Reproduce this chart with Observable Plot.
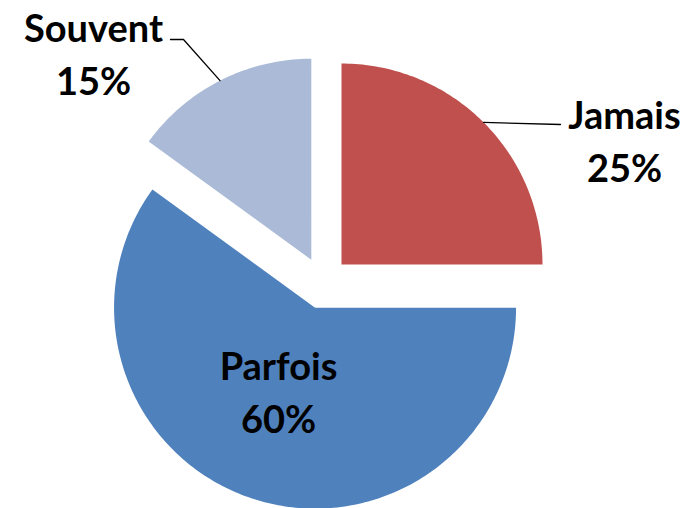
<!DOCTYPE html>
<html><head><meta charset="utf-8">
<script src="https://cdn.jsdelivr.net/npm/d3@7"></script>
<script src="https://cdn.jsdelivr.net/npm/@observablehq/plot@0.6"></script>
<style>html,body{margin:0;padding:0;background:#fff;} svg{display:block}</style>
</head><body><div id="chart"></div>
<script>
// Data
const categories = ["Jamais", "Parfois", "Souvent"];
const values = [25, 60, 15];
const percentLabels = ["25%", "60%", "15%"];
const colors = ["#C0504D", "#4F81BD", "#AABAD7"];

// Layout
const W = 699, H = 508;
const CX = 322.6, CY = 282.4, R = 201, EXPLODE = 26;
const labelPos = {Jamais: [624, 138], Parfois: [278, 389], Souvent: [93, 51]};
const leaderEnd = {Jamais: [[560, 124]], Souvent: [[183, 39], [170, 39]]};

const pie = d3.pie().sort(null).value(d => d.value).startAngle(0).endAngle(2 * Math.PI);
const arcs = pie(categories.map((c, i) => ({category: c, value: values[i], label: percentLabels[i]})));

const wedgePts = [];
const leaderPts = [];
arcs.forEach(a => {
  const mid = (a.startAngle + a.endAngle) / 2;
  const ox = CX + EXPLODE * Math.sin(mid), oy = CY - EXPLODE * Math.cos(mid);
  const c = a.data.category;
  wedgePts.push({category: c, x: ox, y: oy});
  const n = Math.max(2, Math.ceil((a.endAngle - a.startAngle) / (Math.PI / 180)));
  for (let k = 0; k <= n; k++) {
    const t = a.startAngle + (a.endAngle - a.startAngle) * k / n;
    wedgePts.push({category: c, x: ox + R * Math.sin(t), y: oy - R * Math.cos(t)});
  }
  wedgePts.push({category: c, x: ox, y: oy});
  if (leaderEnd[c]) {
    leaderPts.push({category: c, x: ox + R * Math.sin(mid), y: oy - R * Math.cos(mid)});
    leaderEnd[c].forEach(p => leaderPts.push({category: c, x: p[0], y: p[1]}));
  }
});

const chart = Plot.plot({
  width: W, height: H, margin: 0,
  x: {domain: [0, W], range: [0, W], axis: null},
  y: {domain: [0, H], range: [0, H], axis: null},
  color: {domain: categories, range: colors},
  style: {background: "#fff"},
  marks: [
    Plot.line(wedgePts, {x: "x", y: "y", z: "category", fill: "category", stroke: "none", curve: "linear"}),
    Plot.line(leaderPts, {x: "x", y: "y", z: "category", stroke: "#000", strokeWidth: 1.3}),
    Plot.text(arcs, {
      x: d => labelPos[d.data.category][0],
      y: d => labelPos[d.data.category][1],
      text: d => d.data.category + "\n" + d.data.label,
      fontSize: 38, fontWeight: "bold", fontFamily: "Lato", lineHeight: 1.4, fill: "#000"
    })
  ]
});
document.getElementById("chart").appendChild(chart);
</script>
</body></html>
